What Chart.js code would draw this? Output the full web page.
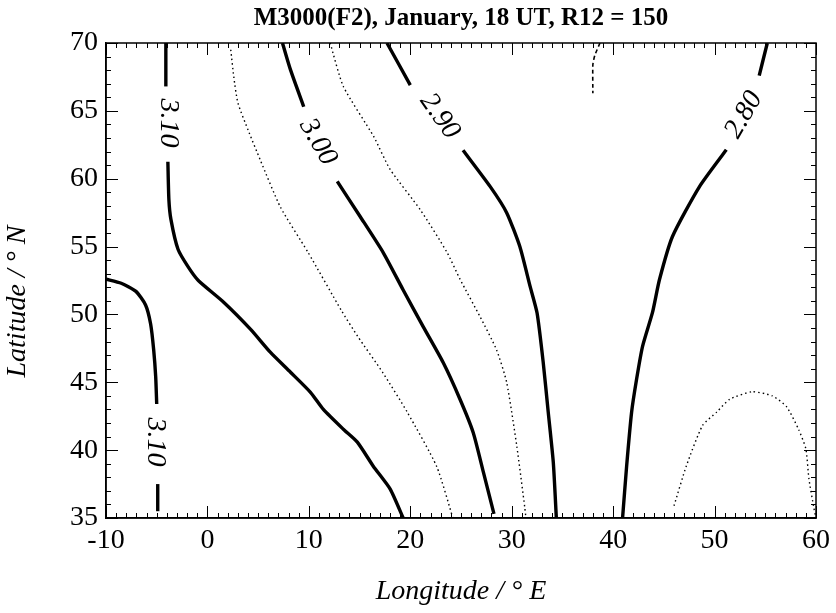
<!DOCTYPE html>
<html><head><meta charset="utf-8">
<script src="https://cdn.jsdelivr.net/npm/chart.js@4.4.1/dist/chart.umd.min.js"></script>
<style>html,body{margin:0;padding:0;background:#fff}</style>
</head><body>
<canvas id="c" width="836" height="613"></canvas>
<script>
// ---- data (longitude °E, latitude °N) ----
const chartTitle = "M3000(F2), January, 18 UT, R12 = 150";
const xTickValues = [-10, 0, 10, 20, 30, 40, 50, 60];
const yTickValues = [35, 40, 45, 50, 55, 60, 65, 70];

const c310UpperA = [[-4.1,70],[-4.1,66.8]];
const c310UpperB = [[-3.9,61.25],[-3.8,58.46],[-3.6,57.0],[-2.9,54.8],[-1.9,53.5],[-0.9,52.5],[1.6,50.9],[4.26,48.9],[6.22,47.2],[8.19,45.74],[10.16,44.26],[11.43,43.0],[13.4,41.54],[14.78,40.59],[16.35,38.82],[18.02,37.13],[19.3,35]];
const c310LowerA = [[-10,52.6],[-8.5,52.3],[-7.05,51.7],[-6.1,50.7],[-5.6,49.3],[-5.3,47.4],[-5.1,45.4],[-5.0,43.4]];
const c310LowerB = [[-4.9,37.5],[-4.9,35.5]];
const c305 = [[2.3,69.5],[2.6,67.5],[3.0,65.6],[4.0,63.6],[5.2,61.4],[7.2,57.9],[9.9,54.6],[13.2,50.3],[14.8,48.4],[17.3,45.7],[19.7,42.8],[22.6,38.8],[24.2,35]];
const c300A = [[7.4,70],[8.2,68.0],[9.5,65.3]];
const c300B = [[12.8,59.8],[15.07,57.2],[17.33,54.56],[19.3,51.8],[21.27,49.1],[23.23,46.47],[24.9,43.75],[26.2,41.3],[27.2,38.4],[28.25,35.3]];
const c295 = [[12.1,70],[13.4,66.8],[16.4,63.1],[18.0,60.7],[21.0,57.7],[23.6,54.6],[24.9,52.6],[26.9,49.8],[28.5,47.4],[29.5,45.0],[30.5,40.3],[31.3,35.7],[31.4,35]];
const c290A = [[17.7,70],[20.0,66.9]];
const c290B = [[25.2,62.1],[27.9,59.4],[29.5,57.5],[30.8,55.0],[31.8,52.1],[32.5,50.1],[33.1,46.5],[33.6,42.8],[34.1,39.1],[34.4,35]];
const c285Top = [[38.7,70],[38.2,69.1],[38.0,68.4],[38.0,66.3]];
const c285Arc = [[46.0,35.9],[47.2,38.8],[48.8,41.8],[50.2,42.8],[51.5,43.75],[53.7,44.3],[55.7,44.0],[57.1,43.2],[58.3,41.5],[59.0,40.1],[59.3,37.9],[59.8,35.7],[60,35]];
const c280A = [[40.93,35],[41.33,38.82],[41.82,42.79],[42.31,45.22],[42.9,47.65],[43.88,50.15],[44.57,52.57],[45.85,55.74],[48.5,59.4],[51.16,62.13]];
const c280B = [[54.4,67.6],[55.2,70]];

const labelTexts = ["3.10", "3.00", "2.90", "2.80", "3.10"];
const labelLons  = [-3.9, 10.9, 22.9, 52.9, -5.1];
const labelLats  = [64.1, 62.7, 64.6, 64.7, 40.6];

// ---- styles ----
const labelAngles = [90, 60, 55, -60, 90];
const SOLID = {borderWidth: 3.4, borderDash: []};
const DOTTED = {borderWidth: 1.4, borderDash: [1.5, 3]};
const DASHED = {borderWidth: 1.6, borderDash: [4, 3]};

function toXY(arr){ return arr.map(p => ({x: p[0], y: p[1]})); }
function ds(arr, style){
  return Object.assign({data: toXY(arr), showLine: true, pointRadius: 0, borderColor: '#000',
    backgroundColor: '#000', fill: false, tension: 0.2, borderCapStyle: 'butt'}, style);
}

const datasets = [
  ds(c310UpperA, SOLID), ds(c310UpperB, SOLID),
  ds(c310LowerA, SOLID), ds(c310LowerB, SOLID),
  ds(c305, DOTTED),
  ds(c300A, SOLID), ds(c300B, SOLID),
  ds(c295, DOTTED),
  ds(c290A, SOLID), ds(c290B, SOLID),
  ds(c285Top, DASHED), ds(c285Arc, DOTTED),
  ds(c280A, SOLID), ds(c280B, SOLID)
];

const decor = {
  id: 'decor',
  afterDraw(chart){
    const ctx = chart.ctx, ca = chart.chartArea;
    const xs = chart.scales.x, ys = chart.scales.y;
    ctx.save();
    ctx.strokeStyle = '#000'; ctx.lineWidth = 1.5; ctx.setLineDash([]);
    ctx.strokeRect(ca.left, ca.top, ca.right - ca.left, ca.bottom - ca.top);
    ctx.lineWidth = 1;
    ctx.beginPath();
    for (let v = xs.min; v <= xs.max; v += 1){
      const px = Math.round(xs.getPixelForValue(v)) + 0.5;
      const len = (v % 10 === 0) ? 12 : 5;
      ctx.moveTo(px, ca.bottom); ctx.lineTo(px, ca.bottom - len);
      ctx.moveTo(px, ca.top); ctx.lineTo(px, ca.top + len);
    }
    for (let v = ys.min; v <= ys.max; v += 1){
      const py = Math.round(ys.getPixelForValue(v)) + 0.5;
      const len = (v % 5 === 0) ? 12 : 5;
      ctx.moveTo(ca.left, py); ctx.lineTo(ca.left + len, py);
      ctx.moveTo(ca.right, py); ctx.lineTo(ca.right - len, py);
    }
    ctx.stroke();
    ctx.fillStyle = '#000';
    ctx.font = 'italic 28px "Liberation Serif"';
    ctx.textAlign = 'center'; ctx.textBaseline = 'middle';
    for (let i = 0; i < labelTexts.length; i++){
      const px = xs.getPixelForValue(labelLons[i]);
      const py = ys.getPixelForValue(labelLats[i]);
      ctx.save();
      ctx.translate(px, py);
      ctx.rotate(labelAngles[i] * Math.PI / 180);
      ctx.fillText(labelTexts[i], 0, 0);
      ctx.restore();
    }
    ctx.font = 'bold 25px "Liberation Serif"';
    ctx.textBaseline = 'alphabetic';
    ctx.fillText(chartTitle, (ca.left + ca.right) / 2, 25);
    ctx.restore();
  }
};

const tickFont = {family: '"Liberation Serif"', size: 28};
const titleFont = {family: '"Liberation Serif"', size: 28, style: 'italic'};

new Chart(document.getElementById('c'), {
  type: 'scatter',
  data: {datasets},
  options: {
    responsive: false, animation: false, devicePixelRatio: 1,
    layout: {padding: {top: 43, right: 19, left: 0, bottom: 0}},
    plugins: {legend: {display: false}, tooltip: {enabled: false}, title: {display: false}},
    scales: {
      x: {
        type: 'linear', min: -10, max: 60,
        afterFit(s){ s.height = 95; },
        afterBuildTicks(s){ s.ticks = xTickValues.map(v => ({value: v})); },
        ticks: {font: tickFont, color: '#000', padding: 6, maxRotation: 0, autoSkip: false},
        grid: {display: false, drawTicks: false},
        border: {display: true, color: '#000', width: 1.5},
        title: {display: true, text: 'Longitude / \u00B0 E', font: titleFont, color: '#000', padding: {top: 0, bottom: 5}}
      },
      y: {
        type: 'linear', min: 35, max: 70,
        afterFit(s){ s.width = 106; },
        afterBuildTicks(s){ s.ticks = yTickValues.map(v => ({value: v})); },
        ticks: {font: tickFont, color: '#000', padding: 8, autoSkip: false},
        grid: {display: false, drawTicks: false},
        border: {display: true, color: '#000', width: 1.5},
        title: {display: true, text: 'Latitude / \u00B0 N\u00A0\u00A0\u00A0\u00A0\u00A0\u00A0', font: titleFont, color: '#000', padding: {top: 1, bottom: 0}}
      }
    }
  },
  plugins: [decor]
});
</script>
</body></html>
